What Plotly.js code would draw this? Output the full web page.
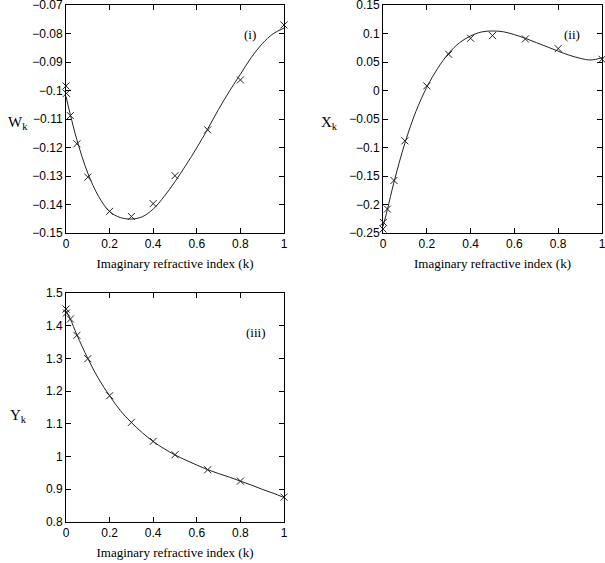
<!DOCTYPE html>
<html>
<head>
<meta charset="utf-8">
<script src="https://cdn.plot.ly/plotly-3.0.1.min.js"></script>
<style>
  html, body { margin: 0; padding: 0; background: #fff; }
  #chart { width: 605px; height: 563px; }
</style>
</head>
<body>
<div id="chart"></div>
<script>
// measured points (x markers)
const kPts = [0, 0.002, 0.02, 0.05, 0.1, 0.2, 0.3, 0.4, 0.5, 0.65, 0.8, 1.0];
const wPts = [-0.0984, -0.101, -0.1088, -0.1187, -0.1304, -0.1424, -0.1442, -0.1397, -0.1299, -0.1138, -0.0963, -0.0770];
const xPts = [-0.2431, -0.2314, -0.208, -0.1578, -0.0883, 0.0081, 0.0636, 0.0916, 0.0963, 0.0904, 0.0735, 0.0548];
const yPts = [1.451, 1.439, 1.4205, 1.3705, 1.2992, 1.186, 1.1045, 1.0464, 1.0056, 0.9597, 0.925, 0.876];

// fitted curves
const kFit = [0, 0.02, 0.05, 0.1, 0.15, 0.2, 0.25, 0.3, 0.35, 0.4, 0.45, 0.5, 0.55, 0.6, 0.65, 0.7, 0.75, 0.8, 0.85, 0.9, 0.95, 1.0];
const wFit = [-0.1021, -0.1085, -0.1173, -0.129, -0.1372, -0.1425, -0.1446, -0.1451, -0.1443, -0.1416, -0.1372, -0.132, -0.1262, -0.1201, -0.1135, -0.1066, -0.1002, -0.0943, -0.0884, -0.0836, -0.0801, -0.0781];
const xFit = [-0.2385, -0.209, -0.161, -0.0924, -0.037, 0.0058, 0.039, 0.0653, 0.084, 0.0957, 0.1027, 0.1044, 0.103, 0.098, 0.0916, 0.084, 0.0765, 0.069, 0.062, 0.0565, 0.0535, 0.0575];
const yFit = [1.445, 1.42, 1.372, 1.30, 1.237, 1.186, 1.14, 1.104, 1.073, 1.046, 1.024, 1.005, 0.989, 0.974, 0.960, 0.948, 0.937, 0.925, 0.913, 0.900, 0.888, 0.875];

const panelTags = ["(i)", "(ii)", "(iii)"];
const yLabels = ["W<sub>k</sub>", "X<sub>k</sub>", "Y<sub>k</sub>"];
const xLabel = "Imaginary refractive index (k)";

const serif = "Liberation Serif, Times New Roman, serif";
const sans = "Liberation Sans, Arial, sans-serif";

function fitTrace(ys, xa, ya) {
    return { x: kFit, y: ys, xaxis: xa, yaxis: ya, type: "scatter", mode: "lines", cliponaxis: false,
        line: { color: "#222", width: 1, shape: "spline", smoothing: 1 }, hoverinfo: "skip" };
}
function ptTrace(ys, xa, ya) {
    return { x: kPts, y: ys, xaxis: xa, yaxis: ya, type: "scatter", mode: "markers", cliponaxis: false,
        marker: { symbol: "x-thin", size: 7, line: { color: "#222", width: 1 } } };
}

const data = [
    fitTrace(wFit, "x", "y"), ptTrace(wPts, "x", "y"),
    fitTrace(xFit, "x2", "y2"), ptTrace(xPts, "x2", "y2"),
    fitTrace(yFit, "x3", "y3"), ptTrace(yPts, "x3", "y3")
];

const W = 605, H = 563;
const px = v => v / W, py = v => 1 - v / H;

function xAx(dom, anchor) {
    return { domain: dom, anchor: anchor, range: [0, 1], dtick: 0.2, tick0: 0,
        showline: true, linecolor: "#000", linewidth: 1, mirror: "ticks",
        ticks: "inside", ticklen: 5, tickcolor: "#000", showgrid: false, zeroline: false,
        ticklabeloverflow: "allow",
        tickfont: { family: sans, size: 12, color: "#000" },
        title: { text: xLabel, font: { family: serif, size: 13, color: "#000" }, standoff: 8 } };
}
function yAx(dom, anchor, range, dtick) {
    return { domain: dom, anchor: anchor, range: range, dtick: dtick,
        showline: true, linecolor: "#000", linewidth: 1, mirror: "ticks",
        ticks: "inside", ticklen: 5, tickcolor: "#000", showgrid: false, zeroline: false,
        ticklabeloverflow: "allow",
        tickfont: { family: sans, size: 12, color: "#000" } };
}

const topDom = [py(233), py(5)], botDom = [py(522), py(293)];
const leftDom = [px(66), px(284)], rightDom = [px(383), px(602)];

const ann = (text, x, y, size) => ({ text: text, xref: "paper", yref: "paper", x: px(x), y: py(y),
    xanchor: "center", yanchor: "middle",
    showarrow: false, font: { family: serif, size: size, color: "#000" } });

const layout = {
    width: W, height: H, margin: { l: 0, r: 0, t: 0, b: 0 },
    paper_bgcolor: "#fff", plot_bgcolor: "#fff", showlegend: false,
    xaxis: xAx(leftDom, "y"), yaxis: yAx(topDom, "x", [-0.15, -0.07], 0.01),
    xaxis2: xAx(rightDom, "y2"), yaxis2: yAx(topDom, "x2", [-0.25, 0.15], 0.05),
    xaxis3: xAx(leftDom, "y3"), yaxis3: yAx(botDom, "x3", [0.8, 1.5], 0.1),
    annotations: [
        ann(panelTags[0], 250, 35, 13), ann(panelTags[1], 572, 35, 13), ann(panelTags[2], 256, 332, 13),
        ann(yLabels[0], 18, 123, 15), ann(yLabels[1], 329, 123, 15), ann(yLabels[2], 18, 416, 15)
    ]
};

Plotly.newPlot("chart", data, layout, { displayModeBar: false, staticPlot: true });
</script>
</body>
</html>
